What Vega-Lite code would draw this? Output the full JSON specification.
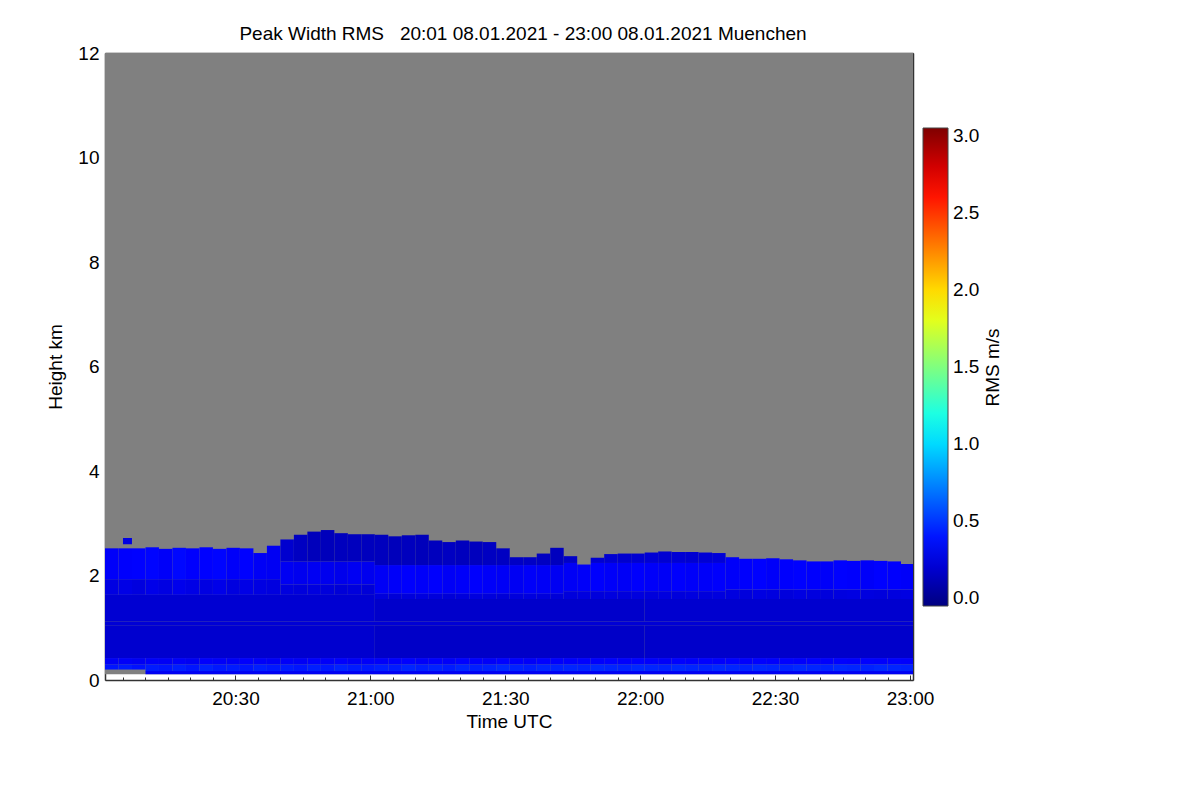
{
 "$schema": "https://vega.github.io/schema/vega-lite/v6.json",
 "width": 808,
 "height": 627,
 "autosize": {"type": "none"},
 "padding": {"left": 105, "top": 53, "right": 287, "bottom": 120},
 "background": "white",
 "config": {
  "font": "Liberation Sans",
  "view": {"stroke": null},
  "axis": {"grid": false, "domainColor": "#333333", "domainWidth": 1.5, "tickColor": "#333333", "tickWidth": 1, "labelFontSize": 19, "labelColor": "black", "titleFontSize": 19, "titleFontWeight": "normal", "titleColor": "black", "labelFlush": false, "labelOverlap": false, "labelBound": false}
 },
 "title": {"text": "Peak Width RMS\u00a0\u00a0\u00a020:01 08.01.2021 - 23:00 08.01.2021 Muenchen", "fontSize": 19, "font": "Liberation Sans", "fontWeight": "normal", "color": "black", "anchor": "middle", "frame": "group", "dx": 14, "offset": -15, "baseline": "alphabetic"},
 "layer": [
  {
   "data": {"values": [{"m": 1, "n": 181, "a": 0.11, "b": 12}]},
   "mark": {"type": "rect", "color": "#808080", "clip": true},
   "encoding": {
    "x": {"field": "m", "type": "quantitative", "scale": {"domain": [1, 180.67], "nice": false, "zero": false},
     "axis": {"orient": "bottom", "values": [5,10,15,20,25,30,35,40,45,50,55,60,65,70,75,80,85,90,95,100,105,110,115,120,125,130,135,140,145,150,155,160,165,170,175,180],
      "labelExpr": "datum.value % 30 == 0 ? timeFormat(datetime(2021,0,8,20,datum.value),'%H:%M') : ''",
      "tickSize": {"condition": {"test": "datum.value % 30 == 0", "value": -5}, "value": -3},
      "labelPadding": 14, "title": "Time UTC", "titlePadding": 2}},
    "x2": {"field": "n"},
    "y": {"field": "a", "type": "quantitative", "scale": {"domain": [0, 12], "nice": false, "zero": false},
     "axis": {"orient": "left", "values": [0,0.5,1,1.5,2,2.5,3,3.5,4,4.5,5,5.5,6,6.5,7,7.5,8,8.5,9,9.5,10,10.5,11,11.5,12],
      "labelExpr": "datum.value % 2 == 0 ? format(datum.value, 'd') : ''",
      "tickSize": {"condition": {"test": "datum.value % 2 == 0", "value": -6}, "value": -3},
      "labelPadding": 12, "title": "Height km", "titlePadding": 12}},
    "y2": {"field": "b"}
   }
  },
  {
   "data": {"values": [
    {"m":10,"n":181,"a":0.11,"b":0.17,"v":0.3},
    {"m":1,"n":61,"a":0.42,"b":1.05,"v":0.19},
    {"m":61,"n":121,"a":0.42,"b":1.05,"v":0.17},
    {"m":121,"n":181,"a":0.42,"b":1.05,"v":0.18},
    {"m":1,"n":181,"a":1.05,"b":1.12,"v":0.21},
    {"m":1,"n":61,"a":1.12,"b":1.63,"v":0.2},
    {"m":61,"n":121,"a":1.12,"b":1.55,"v":0.18},
    {"m":121,"n":181,"a":1.12,"b":1.55,"v":0.19},
    {"m":5,"n":7,"a":2.6,"b":2.72,"v":0.25},

    {"m":1,"n":4,"a":0.2,"b":0.3,"v":0.4},{"m":1,"n":4,"a":0.3,"b":0.42,"v":0.31},{"m":1,"n":4,"a":1.63,"b":1.93,"v":0.25},{"m":1,"n":4,"a":1.93,"b":2.52,"v":0.32},
    {"m":4,"n":7,"a":0.2,"b":0.3,"v":0.42},{"m":4,"n":7,"a":0.3,"b":0.42,"v":0.32},{"m":4,"n":7,"a":1.63,"b":1.93,"v":0.26},{"m":4,"n":7,"a":1.93,"b":2.52,"v":0.33},
    {"m":7,"n":10,"a":0.2,"b":0.3,"v":0.39},{"m":7,"n":10,"a":0.3,"b":0.42,"v":0.3},{"m":7,"n":10,"a":1.63,"b":1.93,"v":0.24},{"m":7,"n":10,"a":1.93,"b":2.52,"v":0.34},
    {"m":10,"n":13,"a":0.17,"b":0.3,"v":0.42},{"m":10,"n":13,"a":0.3,"b":0.42,"v":0.32},{"m":10,"n":13,"a":1.63,"b":1.93,"v":0.27},{"m":10,"n":13,"a":1.93,"b":2.54,"v":0.35},
    {"m":13,"n":16,"a":0.17,"b":0.3,"v":0.4},{"m":13,"n":16,"a":0.3,"b":0.42,"v":0.31},{"m":13,"n":16,"a":1.63,"b":1.93,"v":0.25},{"m":13,"n":16,"a":1.93,"b":2.51,"v":0.32},
    {"m":16,"n":19,"a":0.17,"b":0.3,"v":0.43},{"m":16,"n":19,"a":0.3,"b":0.42,"v":0.32},{"m":16,"n":19,"a":1.63,"b":1.93,"v":0.28},{"m":16,"n":19,"a":1.93,"b":2.53,"v":0.36},
    {"m":19,"n":22,"a":0.17,"b":0.3,"v":0.4},{"m":19,"n":22,"a":0.3,"b":0.42,"v":0.3},{"m":19,"n":22,"a":1.63,"b":1.93,"v":0.26},{"m":19,"n":22,"a":1.93,"b":2.52,"v":0.33},
    {"m":22,"n":25,"a":0.17,"b":0.3,"v":0.44},{"m":22,"n":25,"a":0.3,"b":0.42,"v":0.33},{"m":22,"n":25,"a":1.63,"b":1.93,"v":0.25},{"m":22,"n":25,"a":1.93,"b":2.54,"v":0.34},
    {"m":25,"n":28,"a":0.17,"b":0.3,"v":0.41},{"m":25,"n":28,"a":0.3,"b":0.42,"v":0.32},{"m":25,"n":28,"a":1.63,"b":1.93,"v":0.27},{"m":25,"n":28,"a":1.93,"b":2.51,"v":0.35},
    {"m":28,"n":31,"a":0.17,"b":0.3,"v":0.42},{"m":28,"n":31,"a":0.3,"b":0.42,"v":0.31},{"m":28,"n":31,"a":1.63,"b":1.93,"v":0.24},{"m":28,"n":31,"a":1.93,"b":2.53,"v":0.32},
    {"m":31,"n":34,"a":0.17,"b":0.3,"v":0.4},{"m":31,"n":34,"a":0.3,"b":0.42,"v":0.33},{"m":31,"n":34,"a":1.63,"b":1.93,"v":0.26},{"m":31,"n":34,"a":1.93,"b":2.52,"v":0.34},
    {"m":34,"n":37,"a":0.17,"b":0.3,"v":0.43},{"m":34,"n":37,"a":0.3,"b":0.42,"v":0.32},{"m":34,"n":37,"a":1.63,"b":1.93,"v":0.25},{"m":34,"n":37,"a":1.93,"b":2.43,"v":0.31},
    {"m":37,"n":40,"a":0.17,"b":0.3,"v":0.41},{"m":37,"n":40,"a":0.3,"b":0.42,"v":0.31},{"m":37,"n":40,"a":1.63,"b":1.93,"v":0.24},{"m":37,"n":40,"a":1.93,"b":2.57,"v":0.3},

    {"m":40,"n":43,"a":0.17,"b":0.3,"v":0.42},{"m":40,"n":43,"a":0.3,"b":0.42,"v":0.32},{"m":40,"n":43,"a":1.63,"b":1.83,"v":0.24},{"m":40,"n":43,"a":1.83,"b":2.27,"v":0.3},{"m":40,"n":43,"a":2.27,"b":2.69,"v":0.19},
    {"m":43,"n":46,"a":0.17,"b":0.3,"v":0.4},{"m":43,"n":46,"a":0.3,"b":0.42,"v":0.31},{"m":43,"n":46,"a":1.63,"b":1.83,"v":0.23},{"m":43,"n":46,"a":1.83,"b":2.27,"v":0.29},{"m":43,"n":46,"a":2.27,"b":2.78,"v":0.15},
    {"m":46,"n":49,"a":0.17,"b":0.3,"v":0.43},{"m":46,"n":49,"a":0.3,"b":0.42,"v":0.33},{"m":46,"n":49,"a":1.63,"b":1.83,"v":0.24},{"m":46,"n":49,"a":1.83,"b":2.27,"v":0.3},{"m":46,"n":49,"a":2.27,"b":2.84,"v":0.13},
    {"m":49,"n":52,"a":0.17,"b":0.3,"v":0.41},{"m":49,"n":52,"a":0.3,"b":0.42,"v":0.32},{"m":49,"n":52,"a":1.63,"b":1.83,"v":0.23},{"m":49,"n":52,"a":1.83,"b":2.27,"v":0.29},{"m":49,"n":52,"a":2.27,"b":2.87,"v":0.13},
    {"m":52,"n":55,"a":0.17,"b":0.3,"v":0.44},{"m":52,"n":55,"a":0.3,"b":0.42,"v":0.33},{"m":52,"n":55,"a":1.63,"b":1.83,"v":0.22},{"m":52,"n":55,"a":1.83,"b":2.27,"v":0.28},{"m":52,"n":55,"a":2.27,"b":2.81,"v":0.14},
    {"m":55,"n":58,"a":0.17,"b":0.3,"v":0.42},{"m":55,"n":58,"a":0.3,"b":0.42,"v":0.31},{"m":55,"n":58,"a":1.63,"b":1.83,"v":0.23},{"m":55,"n":58,"a":1.83,"b":2.27,"v":0.3},{"m":55,"n":58,"a":2.27,"b":2.79,"v":0.14},
    {"m":58,"n":61,"a":0.17,"b":0.3,"v":0.41},{"m":58,"n":61,"a":0.3,"b":0.42,"v":0.32},{"m":58,"n":61,"a":1.63,"b":1.83,"v":0.22},{"m":58,"n":61,"a":1.83,"b":2.27,"v":0.29},{"m":58,"n":61,"a":2.27,"b":2.79,"v":0.14},

    {"m":61,"n":64,"a":0.17,"b":0.3,"v":0.43},{"m":61,"n":64,"a":0.3,"b":0.42,"v":0.32},{"m":61,"n":64,"a":1.55,"b":1.65,"v":0.23},{"m":61,"n":64,"a":1.65,"b":2.2,"v":0.31},{"m":61,"n":64,"a":2.2,"b":2.78,"v":0.14},
    {"m":64,"n":67,"a":0.17,"b":0.3,"v":0.42},{"m":64,"n":67,"a":0.3,"b":0.42,"v":0.33},{"m":64,"n":67,"a":1.55,"b":1.65,"v":0.22},{"m":64,"n":67,"a":1.65,"b":2.2,"v":0.32},{"m":64,"n":67,"a":2.2,"b":2.75,"v":0.13},
    {"m":67,"n":70,"a":0.17,"b":0.3,"v":0.45},{"m":67,"n":70,"a":0.3,"b":0.42,"v":0.34},{"m":67,"n":70,"a":1.55,"b":1.65,"v":0.23},{"m":67,"n":70,"a":1.65,"b":2.2,"v":0.33},{"m":67,"n":70,"a":2.2,"b":2.77,"v":0.14},
    {"m":70,"n":73,"a":0.17,"b":0.3,"v":0.43},{"m":70,"n":73,"a":0.3,"b":0.42,"v":0.32},{"m":70,"n":73,"a":1.55,"b":1.65,"v":0.24},{"m":70,"n":73,"a":1.65,"b":2.2,"v":0.32},{"m":70,"n":73,"a":2.2,"b":2.78,"v":0.13},
    {"m":73,"n":76,"a":0.17,"b":0.3,"v":0.44},{"m":73,"n":76,"a":0.3,"b":0.42,"v":0.33},{"m":73,"n":76,"a":1.55,"b":1.65,"v":0.23},{"m":73,"n":76,"a":1.65,"b":2.2,"v":0.33},{"m":73,"n":76,"a":2.2,"b":2.67,"v":0.14},
    {"m":76,"n":79,"a":0.17,"b":0.3,"v":0.42},{"m":76,"n":79,"a":0.3,"b":0.42,"v":0.32},{"m":76,"n":79,"a":1.55,"b":1.65,"v":0.22},{"m":76,"n":79,"a":1.65,"b":2.2,"v":0.31},{"m":76,"n":79,"a":2.2,"b":2.64,"v":0.15},
    {"m":79,"n":82,"a":0.17,"b":0.3,"v":0.45},{"m":79,"n":82,"a":0.3,"b":0.42,"v":0.34},{"m":79,"n":82,"a":1.55,"b":1.65,"v":0.23},{"m":79,"n":82,"a":1.65,"b":2.2,"v":0.32},{"m":79,"n":82,"a":2.2,"b":2.67,"v":0.14},
    {"m":82,"n":85,"a":0.17,"b":0.3,"v":0.43},{"m":82,"n":85,"a":0.3,"b":0.42,"v":0.33},{"m":82,"n":85,"a":1.55,"b":1.65,"v":0.24},{"m":82,"n":85,"a":1.65,"b":2.2,"v":0.33},{"m":82,"n":85,"a":2.2,"b":2.65,"v":0.14},
    {"m":85,"n":88,"a":0.17,"b":0.3,"v":0.44},{"m":85,"n":88,"a":0.3,"b":0.42,"v":0.32},{"m":85,"n":88,"a":1.55,"b":1.65,"v":0.23},{"m":85,"n":88,"a":1.65,"b":2.2,"v":0.32},{"m":85,"n":88,"a":2.2,"b":2.64,"v":0.15},
    {"m":88,"n":91,"a":0.17,"b":0.3,"v":0.46},{"m":88,"n":91,"a":0.3,"b":0.42,"v":0.34},{"m":88,"n":91,"a":1.55,"b":1.65,"v":0.22},{"m":88,"n":91,"a":1.65,"b":2.2,"v":0.31},{"m":88,"n":91,"a":2.2,"b":2.52,"v":0.15},
    {"m":91,"n":94,"a":0.17,"b":0.3,"v":0.44},{"m":91,"n":94,"a":0.3,"b":0.42,"v":0.33},{"m":91,"n":94,"a":1.55,"b":1.65,"v":0.23},{"m":91,"n":94,"a":1.65,"b":2.2,"v":0.3},{"m":91,"n":94,"a":2.2,"b":2.35,"v":0.16},
    {"m":94,"n":97,"a":0.17,"b":0.3,"v":0.43},{"m":94,"n":97,"a":0.3,"b":0.42,"v":0.32},{"m":94,"n":97,"a":1.55,"b":1.65,"v":0.24},{"m":94,"n":97,"a":1.65,"b":2.2,"v":0.32},{"m":94,"n":97,"a":2.2,"b":2.35,"v":0.16},
    {"m":97,"n":100,"a":0.17,"b":0.3,"v":0.45},{"m":97,"n":100,"a":0.3,"b":0.42,"v":0.34},{"m":97,"n":100,"a":1.55,"b":1.65,"v":0.23},{"m":97,"n":100,"a":1.65,"b":2.2,"v":0.31},{"m":97,"n":100,"a":2.2,"b":2.42,"v":0.15},
    {"m":100,"n":103,"a":0.17,"b":0.3,"v":0.44},{"m":100,"n":103,"a":0.3,"b":0.42,"v":0.33},{"m":100,"n":103,"a":1.55,"b":1.65,"v":0.22},{"m":100,"n":103,"a":1.65,"b":2.2,"v":0.3},{"m":100,"n":103,"a":2.2,"b":2.53,"v":0.14},

    {"m":103,"n":106,"a":0.17,"b":0.3,"v":0.45},{"m":103,"n":106,"a":0.3,"b":0.42,"v":0.33},{"m":103,"n":106,"a":1.55,"b":1.7,"v":0.23},{"m":103,"n":106,"a":1.7,"b":2.24,"v":0.31},{"m":103,"n":106,"a":2.24,"b":2.37,"v":0.17},
    {"m":106,"n":109,"a":0.17,"b":0.3,"v":0.44},{"m":106,"n":109,"a":0.3,"b":0.42,"v":0.34},{"m":106,"n":109,"a":1.55,"b":1.7,"v":0.24},{"m":106,"n":109,"a":1.7,"b":2.21,"v":0.32},
    {"m":109,"n":112,"a":0.17,"b":0.3,"v":0.46},{"m":109,"n":112,"a":0.3,"b":0.42,"v":0.33},{"m":109,"n":112,"a":1.55,"b":1.7,"v":0.23},{"m":109,"n":112,"a":1.7,"b":2.24,"v":0.33},{"m":109,"n":112,"a":2.24,"b":2.34,"v":0.2},
    {"m":112,"n":115,"a":0.17,"b":0.3,"v":0.45},{"m":112,"n":115,"a":0.3,"b":0.42,"v":0.34},{"m":112,"n":115,"a":1.55,"b":1.7,"v":0.24},{"m":112,"n":115,"a":1.7,"b":2.24,"v":0.32},{"m":112,"n":115,"a":2.24,"b":2.41,"v":0.2},
    {"m":115,"n":118,"a":0.17,"b":0.3,"v":0.44},{"m":115,"n":118,"a":0.3,"b":0.42,"v":0.33},{"m":115,"n":118,"a":1.55,"b":1.7,"v":0.23},{"m":115,"n":118,"a":1.7,"b":2.24,"v":0.31},{"m":115,"n":118,"a":2.24,"b":2.42,"v":0.19},
    {"m":118,"n":121,"a":0.17,"b":0.3,"v":0.46},{"m":118,"n":121,"a":0.3,"b":0.42,"v":0.34},{"m":118,"n":121,"a":1.55,"b":1.7,"v":0.24},{"m":118,"n":121,"a":1.7,"b":2.24,"v":0.33},{"m":118,"n":121,"a":2.24,"b":2.42,"v":0.2},
    {"m":121,"n":124,"a":0.17,"b":0.3,"v":0.45},{"m":121,"n":124,"a":0.3,"b":0.42,"v":0.33},{"m":121,"n":124,"a":1.55,"b":1.7,"v":0.23},{"m":121,"n":124,"a":1.7,"b":2.24,"v":0.32},{"m":121,"n":124,"a":2.24,"b":2.44,"v":0.21},
    {"m":124,"n":127,"a":0.17,"b":0.3,"v":0.44},{"m":124,"n":127,"a":0.3,"b":0.42,"v":0.32},{"m":124,"n":127,"a":1.55,"b":1.7,"v":0.24},{"m":124,"n":127,"a":1.7,"b":2.24,"v":0.31},{"m":124,"n":127,"a":2.24,"b":2.46,"v":0.2},
    {"m":127,"n":130,"a":0.17,"b":0.3,"v":0.46},{"m":127,"n":130,"a":0.3,"b":0.42,"v":0.34},{"m":127,"n":130,"a":1.55,"b":1.7,"v":0.23},{"m":127,"n":130,"a":1.7,"b":2.24,"v":0.33},{"m":127,"n":130,"a":2.24,"b":2.45,"v":0.21},
    {"m":130,"n":133,"a":0.17,"b":0.3,"v":0.45},{"m":130,"n":133,"a":0.3,"b":0.42,"v":0.33},{"m":130,"n":133,"a":1.55,"b":1.7,"v":0.24},{"m":130,"n":133,"a":1.7,"b":2.24,"v":0.32},{"m":130,"n":133,"a":2.24,"b":2.45,"v":0.2},
    {"m":133,"n":136,"a":0.17,"b":0.3,"v":0.44},{"m":133,"n":136,"a":0.3,"b":0.42,"v":0.34},{"m":133,"n":136,"a":1.55,"b":1.7,"v":0.23},{"m":133,"n":136,"a":1.7,"b":2.24,"v":0.32},{"m":133,"n":136,"a":2.24,"b":2.44,"v":0.21},
    {"m":136,"n":139,"a":0.17,"b":0.3,"v":0.46},{"m":136,"n":139,"a":0.3,"b":0.42,"v":0.33},{"m":136,"n":139,"a":1.55,"b":1.7,"v":0.24},{"m":136,"n":139,"a":1.7,"b":2.24,"v":0.33},{"m":136,"n":139,"a":2.24,"b":2.43,"v":0.22},

    {"m":139,"n":142,"a":0.17,"b":0.3,"v":0.45},{"m":139,"n":142,"a":0.3,"b":0.42,"v":0.34},{"m":139,"n":142,"a":1.55,"b":1.73,"v":0.24},{"m":139,"n":142,"a":1.73,"b":2.35,"v":0.32},
    {"m":142,"n":145,"a":0.17,"b":0.3,"v":0.44},{"m":142,"n":145,"a":0.3,"b":0.42,"v":0.33},{"m":142,"n":145,"a":1.55,"b":1.73,"v":0.23},{"m":142,"n":145,"a":1.73,"b":2.32,"v":0.33},
    {"m":145,"n":148,"a":0.17,"b":0.3,"v":0.46},{"m":145,"n":148,"a":0.3,"b":0.42,"v":0.34},{"m":145,"n":148,"a":1.55,"b":1.73,"v":0.25},{"m":145,"n":148,"a":1.73,"b":2.32,"v":0.34},
    {"m":148,"n":151,"a":0.17,"b":0.3,"v":0.45},{"m":148,"n":151,"a":0.3,"b":0.42,"v":0.33},{"m":148,"n":151,"a":1.55,"b":1.73,"v":0.24},{"m":148,"n":151,"a":1.73,"b":2.33,"v":0.32},
    {"m":151,"n":154,"a":0.17,"b":0.3,"v":0.44},{"m":151,"n":154,"a":0.3,"b":0.42,"v":0.34},{"m":151,"n":154,"a":1.55,"b":1.73,"v":0.23},{"m":151,"n":154,"a":1.73,"b":2.31,"v":0.33},
    {"m":154,"n":157,"a":0.17,"b":0.3,"v":0.46},{"m":154,"n":157,"a":0.3,"b":0.42,"v":0.33},{"m":154,"n":157,"a":1.55,"b":1.73,"v":0.25},{"m":154,"n":157,"a":1.73,"b":2.29,"v":0.34},
    {"m":157,"n":160,"a":0.17,"b":0.3,"v":0.45},{"m":157,"n":160,"a":0.3,"b":0.42,"v":0.34},{"m":157,"n":160,"a":1.55,"b":1.73,"v":0.24},{"m":157,"n":160,"a":1.73,"b":2.27,"v":0.33},
    {"m":160,"n":163,"a":0.17,"b":0.3,"v":0.44},{"m":160,"n":163,"a":0.3,"b":0.42,"v":0.33},{"m":160,"n":163,"a":1.55,"b":1.73,"v":0.23},{"m":160,"n":163,"a":1.73,"b":2.27,"v":0.32},
    {"m":163,"n":166,"a":0.17,"b":0.3,"v":0.46},{"m":163,"n":166,"a":0.3,"b":0.42,"v":0.34},{"m":163,"n":166,"a":1.55,"b":1.73,"v":0.24},{"m":163,"n":166,"a":1.73,"b":2.29,"v":0.34},
    {"m":166,"n":169,"a":0.17,"b":0.3,"v":0.45},{"m":166,"n":169,"a":0.3,"b":0.42,"v":0.33},{"m":166,"n":169,"a":1.55,"b":1.73,"v":0.25},{"m":166,"n":169,"a":1.73,"b":2.28,"v":0.33},
    {"m":169,"n":172,"a":0.17,"b":0.3,"v":0.44},{"m":169,"n":172,"a":0.3,"b":0.42,"v":0.34},{"m":169,"n":172,"a":1.55,"b":1.73,"v":0.24},{"m":169,"n":172,"a":1.73,"b":2.29,"v":0.32},
    {"m":172,"n":175,"a":0.17,"b":0.3,"v":0.46},{"m":172,"n":175,"a":0.3,"b":0.42,"v":0.33},{"m":172,"n":175,"a":1.55,"b":1.73,"v":0.23},{"m":172,"n":175,"a":1.73,"b":2.28,"v":0.34},
    {"m":175,"n":178,"a":0.17,"b":0.3,"v":0.45},{"m":175,"n":178,"a":0.3,"b":0.42,"v":0.34},{"m":175,"n":178,"a":1.55,"b":1.73,"v":0.24},{"m":175,"n":178,"a":1.73,"b":2.27,"v":0.33},
    {"m":178,"n":181,"a":0.17,"b":0.3,"v":0.44},{"m":178,"n":181,"a":0.3,"b":0.42,"v":0.33},{"m":178,"n":181,"a":1.55,"b":1.73,"v":0.25},{"m":178,"n":181,"a":1.73,"b":2.22,"v":0.32}
   ]},
   "mark": {"type": "rect", "clip": true},
   "encoding": {
    "x": {"field": "m", "type": "quantitative", "scale": {"domain": [1, 180.67], "nice": false, "zero": false}, "axis": null},
    "x2": {"field": "n"},
    "y": {"field": "a", "type": "quantitative", "scale": {"domain": [0, 12], "nice": false, "zero": false}, "axis": null},
    "y2": {"field": "b"},
    "color": {"field": "v", "type": "quantitative",
     "scale": {"domain": [-0.05, 0.3375, 1.1125, 1.8875, 2.6625, 3.05], "range": ["#000080", "#0000ff", "#00ffff", "#ffff00", "#ff0000", "#800000"], "interpolate": "rgb", "clamp": true, "nice": false, "zero": false},
     "legend": {"orient": "none", "legendX": 818, "legendY": 75, "direction": "vertical", "gradientLength": 478, "gradientThickness": 25, "gradientStrokeColor": "#444444", "gradientStrokeWidth": 1, "values": [0, 0.5, 1, 1.5, 2, 2.5, 3], "format": ".1f", "labelFontSize": 19, "labelFont": "Liberation Sans", "labelColor": "black", "labelOffset": 5, "labelOverlap": false, "title": null, "padding": 0}}
   }
  },
  {
   "data": {"values": [{"m": 1, "a": 0}]},
   "mark": {"type": "point", "opacity": 0},
   "encoding": {
    "x": {"field": "m", "type": "quantitative", "scale": {"domain": [1, 180.67], "nice": false, "zero": false},
     "axis": {"orient": "top", "values": [5,10,15,20,25,30,35,40,45,50,55,60,65,70,75,80,85,90,95,100,105,110,115,120,125,130,135,140,145,150,155,160,165,170,175,180], "labels": false, "title": null,
      "tickSize": {"condition": {"test": "datum.value % 30 == 0", "value": -5}, "value": -3}}},
    "y": {"field": "a", "type": "quantitative", "scale": {"domain": [0, 12], "nice": false, "zero": false},
     "axis": {"orient": "right", "values": [0,0.5,1,1.5,2,2.5,3,3.5,4,4.5,5,5.5,6,6.5,7,7.5,8,8.5,9,9.5,10,10.5,11,11.5,12], "labels": false,
      "title": "RMS m/s", "titleAngle": 270, "titleX": 79, "titleY": 314, "titleAlign": "center", "titleBaseline": "middle",
      "tickSize": {"condition": {"test": "datum.value % 2 == 0", "value": -6}, "value": -3}}}
   }
  }
 ],
 "resolve": {"axis": {"x": "independent", "y": "independent"}}
}
